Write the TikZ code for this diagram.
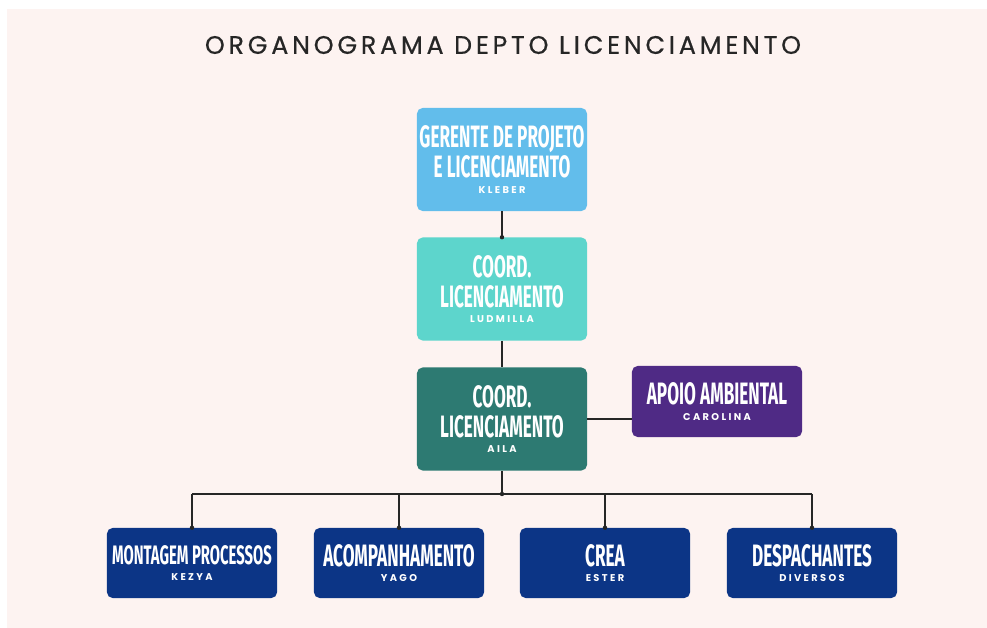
\documentclass[tikz,border=0pt]{standalone}
\usepackage{fontspec}
\usepackage{tikz}
\usetikzlibrary{%
  arrows,%
  calc%
}
\newfontfamily\headfont[LetterSpace=15,FakeBold=0.5]{Poppins}
\newfontfamily\boxfont[FakeStretch=0.555]{Fira Sans}
\newfontfamily\namefont[LetterSpace=24]{Poppins}
\definecolor{fundo}{HTML}{FDF3F1}
\definecolor{azulclaro}{HTML}{62BDEB}
\definecolor{turquesa}{HTML}{5DD5CC}
\definecolor{verdeescuro}{HTML}{2D7A72}
\definecolor{roxo}{HTML}{4F2A85}
\definecolor{marinho}{HTML}{0C3586}
\definecolor{linhacor}{HTML}{262626}
\newcommand{\pessoa}[1]{{\namefont\bfseries\fontsize{7}{8}\selectfont #1}}
\tikzset{>=latex}
\tikzset{
  caixa/.style={rounded corners=4pt, minimum width=4.25cm, inner sep=0pt,
    align=center, text=white,
    font=\fontsize{22}{21.3}\boxfont\bfseries},
  alta/.style={caixa, minimum height=2.575cm},
  baixa/.style={caixa, minimum height=1.75cm},
  linha/.style={draw=linhacor, line width=0.9pt},
  ponto/.style={fill=linhacor}
}

\begin{document}
\begin{tikzpicture}[x=0.025cm,y=-0.025cm]
    \useasboundingbox (0,0) rectangle (987,628);
    \fill[fundo] (7,9) rectangle (987,628);
    \node[text=linhacor, font=\fontsize{18}{21}\headfont] (titulo) at (503,45)
    {ORGANOGRAMA DEPTO LICENCIAMENTO};
    % chefia
    \node[alta, fill=azulclaro] (gerente) at (502,159.5)
    {GERENTE DE PROJETO\\E LICENCIAMENTO\\[-10.2pt]\pessoa{KLEBER}};
    \node[alta, fill=turquesa] (ludmilla) at (502,289)
    {COORD.\\LICENCIAMENTO\\[-10.2pt]\pessoa{LUDMILLA}};
    \node[alta, fill=verdeescuro] (aila) at (502,419)
    {COORD.\\LICENCIAMENTO\\[-10.2pt]\pessoa{AILA}};
    \node[caixa, minimum height=1.775cm, fill=roxo] (apoio) at (717,401.5)
    {APOIO AMBIENTAL\\[-10.2pt]\pessoa{CAROLINA}};
    % equipe
    \node[baixa, fill=marinho, font=\fontsize{19}{21.3}\boxfont\bfseries]
    (montagem) at (192,563) {MONTAGEM PROCESSOS\\[-10.2pt]\pessoa{KEZYA}};
    \node[baixa, fill=marinho] (acomp) at (399,563)
    {ACOMPANHAMENTO\\[-10.2pt]\pessoa{YAGO}};
    \node[baixa, fill=marinho] (crea) at (605,563)
    {CREA\\[-10.2pt]\pessoa{ESTER}};
    \node[baixa, fill=marinho] (despach) at (812,563)
    {DESPACHANTES\\[-10.2pt]\pessoa{DIVERSOS}};
    % ligacoes
    \coordinate (barra) at (502,494);
    \draw[linha] (gerente.south) -- (ludmilla.north);
    \fill[ponto] (ludmilla.north) circle (2.2);
    \draw[linha] (ludmilla.south) -- (aila.north);
    \draw[linha] (aila.east) -- (aila.east -| apoio.west);
    \draw[linha] (aila.south) -- (barra);
    \draw[linha] (montagem.north |- barra) -- (despach.north |- barra);
    \fill[ponto] (barra) circle (2.2);
    \foreach \n in {montagem,acomp,crea,despach}{
      \draw[linha] (\n.north |- barra) -- (\n.north);
      \fill[ponto] (\n.north) circle (2.2);
    }
\end{tikzpicture}
\end{document}
